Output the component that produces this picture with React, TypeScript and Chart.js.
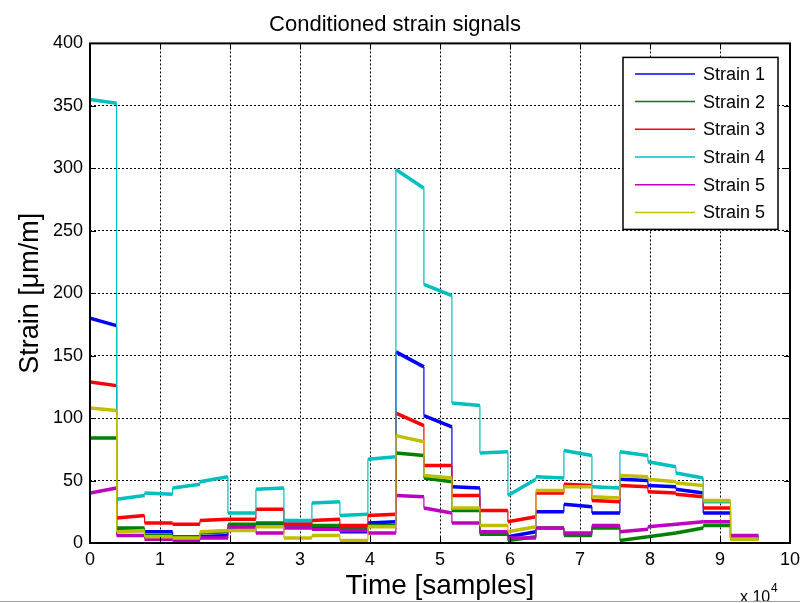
import React, { useEffect, useRef } from "react";
import { Chart, registerables } from "chart.js";

Chart.register(...registerables);

// Step boundaries (time, in units of 10^4 samples)
const BREAKS = [0, 0.38, 0.78, 1.18, 1.57, 1.97, 2.37, 2.77, 3.17, 3.57, 3.97, 4.37, 4.77, 5.17, 5.57, 5.97, 6.37, 6.77, 7.17, 7.57, 7.97, 8.37, 8.76, 9.15, 9.55];

// Level at start and end of each step (µm/m)
const STRAIN1_START = [180, 10, 9, 3, 5, 12, 14, 15, 13, 9, 16, 153, 102, 45, 8, 5, 25, 31, 24, 51, 46, 43, 24, 4];
const STRAIN1_END = [174, 10, 9, 3, 6, 12, 14, 15, 13, 9, 17, 141, 93, 44, 8, 9, 25, 29, 24, 50, 45, 40, 24, 4];
const STRAIN2_START = [84, 12, 6, 5, 8, 15, 16, 14, 14, 12, 14, 72, 52, 26, 7, 2, 12, 6, 12, 2, 5, 8, 14, 4];
const STRAIN2_END = [84, 12, 6, 5, 9, 15, 16, 14, 14, 12, 14, 70, 49, 26, 7, 5, 12, 6, 12, 5, 8, 12, 14, 4];
const STRAIN3_START = [129, 20, 16, 15, 18, 19, 27, 15, 18, 14, 22, 104, 62, 38, 26, 17, 40, 47, 34, 46, 41, 39, 28, 4];
const STRAIN3_END = [126, 22, 16, 15, 19, 19, 27, 15, 19, 14, 23, 94, 62, 38, 26, 21, 40, 46, 33, 45, 40, 37, 28, 4];
const STRAIN4_START = [355, 35, 40, 44, 49, 24, 43, 18, 32, 22, 67, 299, 207, 112, 72, 38, 53, 74, 45, 73, 65, 56, 33, 5];
const STRAIN4_END = [352, 38, 39, 47, 53, 24, 44, 18, 33, 23, 69, 284, 198, 110, 73, 51, 52, 70, 44, 70, 61, 52, 33, 5];
const STRAIN5_START = [40, 6, 3, 2, 4, 13, 8, 12, 11, 10, 8, 38, 28, 16, 9, 4, 12, 8, 14, 9, 13, 15, 17, 6];
const STRAIN5_END = [44, 6, 3, 2, 4, 12, 8, 12, 11, 10, 8, 37, 24, 16, 9, 4, 12, 8, 14, 11, 15, 17, 17, 6];
const STRAIN6_START = [108, 9, 5, 4, 9, 10, 13, 4, 6, 2, 13, 86, 54, 28, 14, 9, 42, 45, 37, 54, 51, 48, 34, 3];
const STRAIN6_END = [106, 10, 5, 4, 10, 10, 13, 4, 6, 2, 13, 81, 52, 28, 14, 13, 42, 45, 36, 53, 49, 46, 34, 3];

const LABELS = ["Strain 1", "Strain 2", "Strain 3", "Strain 4", "Strain 5", "Strain 5"];
const COLORS = ["#0000FF", "#008000", "#FF0000", "#00BFBF", "#BF00BF", "#BFBF00"];
const STARTS = [STRAIN1_START, STRAIN2_START, STRAIN3_START, STRAIN4_START, STRAIN5_START, STRAIN6_START];
const ENDS = [STRAIN1_END, STRAIN2_END, STRAIN3_END, STRAIN4_END, STRAIN5_END, STRAIN6_END];

const X_TICKS = [0, 1, 2, 3, 4, 5, 6, 7, 8, 9, 10];
const Y_TICKS = [0, 50, 100, 150, 200, 250, 300, 350, 400];

const FONT = "Arial, 'Liberation Sans', Helvetica, sans-serif";

function buildPoints(starts: number[], ends: number[]) {
  const pts: { x: number; y: number }[] = [];
  for (let k = 0; k < starts.length; k++) {
    pts.push({ x: BREAKS[k], y: starts[k] });
    pts.push({ x: BREAKS[k + 1], y: ends[k] });
  }
  return pts;
}

const decorPlugin = {
  id: "decor",
  afterDraw(chart: any) {
    const { ctx, chartArea } = chart;
    const { left, right, top, bottom } = chartArea;
    const xs = chart.scales.x;
    const ys = chart.scales.y;
    ctx.save();
    const line = (x1: number, y1: number, x2: number, y2: number) => {
      ctx.beginPath();
      ctx.moveTo(x1, y1);
      ctx.lineTo(x2, y2);
      ctx.stroke();
    };
    // inner tick marks
    ctx.strokeStyle = "#000";
    ctx.lineWidth = 1;
    for (const v of X_TICKS) {
      const px = Math.round(xs.getPixelForValue(v)) + 0.5;
      line(px, bottom, px, bottom - 6);
      line(px, top, px, top + 6);
    }
    for (const v of Y_TICKS) {
      const py = Math.round(ys.getPixelForValue(v)) + 0.5;
      line(left, py, left + 6, py);
      line(right, py, right - 6, py);
    }
    // axes box
    ctx.lineWidth = 2;
    ctx.strokeRect(left, top, right - left, bottom - top);

    // legend
    const lw = 155;
    const lh = 172;
    const lx = right - 12 - lw;
    const ly = top + 14;
    ctx.fillStyle = "#fff";
    ctx.fillRect(lx, ly, lw, lh);
    ctx.lineWidth = 1.5;
    ctx.strokeStyle = "#000";
    ctx.strokeRect(lx, ly, lw, lh);
    ctx.font = `18px ${FONT}`;
    ctx.textBaseline = "middle";
    ctx.textAlign = "left";
    chart.data.datasets.forEach((ds: any, i: number) => {
      const y = ly + 16.5 + i * 27.7;
      ctx.strokeStyle = ds.borderColor;
      ctx.lineWidth = 1.5;
      line(lx + 12, y, lx + 72, y);
      ctx.fillStyle = "#000";
      ctx.fillText(ds.label, lx + 80, y + 1);
    });

    // exponent label
    ctx.fillStyle = "#000";
    ctx.textBaseline = "alphabetic";
    ctx.font = `16px ${FONT}`;
    ctx.fillText("x 10", right - 50, 602);
    ctx.font = `12px ${FONT}`;
    ctx.fillText("4", right - 19, 592);

    // bottom window edge
    ctx.strokeStyle = "#a0a0a0";
    ctx.lineWidth = 1;
    line(0, 601.5, chart.width, 601.5);
    ctx.restore();
  },
};

export default function App() {
  const canvasRef = useRef<HTMLCanvasElement | null>(null);

  useEffect(() => {
    const canvas = canvasRef.current;
    if (!canvas) return;
    const datasets = LABELS.map((label, i) => ({
      label,
      data: buildPoints(STARTS[i], ENDS[i]),
      borderColor: COLORS[i],
      backgroundColor: COLORS[i],
      borderWidth: 3.5,
      pointRadius: 0,
      tension: 0,
      fill: false,
      order: LABELS.length - i,
      segment: {
        borderWidth: (c: any) => (c.p0.parsed.x === c.p1.parsed.x ? 1.2 : 3.5),
      },
    }));

    const chart = new Chart(canvas, {
      type: "line",
      data: { datasets },
      options: {
        responsive: false,
        animation: false,
        events: [],
        layout: { padding: { left: 0, right: 10, top: 0, bottom: 0 } },
        plugins: {
          legend: { display: false },
          tooltip: { enabled: false },
          title: {
            display: true,
            text: "Conditioned strain signals",
            color: "#000",
            font: { family: FONT, size: 22, weight: "normal" },
            padding: { top: 12, bottom: 5 },
          },
        },
        scales: {
          x: {
            type: "linear",
            min: 0,
            max: 10,
            afterFit: (s: any) => {
              s.height = 60;
              s.paddingRight = 0;
              s.paddingLeft = 0;
            },
            afterBuildTicks: (s: any) => {
              s.ticks = X_TICKS.map((v) => ({ value: v }));
            },
            ticks: {
              color: "#000",
              font: { family: FONT, size: 18 },
              padding: 6,
              maxRotation: 0,
              autoSkip: false,
            },
            grid: {
              color: "#000",
              lineWidth: 1,
              drawTicks: false,
            },
            border: { display: false, dash: [2, 2] },
            title: {
              display: true,
              text: "Time [samples]",
              color: "#000",
              font: { family: FONT, size: 28 },
              padding: { top: 0, bottom: 0 },
            },
          },
          y: {
            type: "linear",
            min: 0,
            max: 400,
            afterFit: (s: any) => {
              s.width = 90;
              s.paddingTop = 0;
              s.paddingBottom = 0;
            },
            afterBuildTicks: (s: any) => {
              s.ticks = Y_TICKS.map((v) => ({ value: v }));
            },
            ticks: {
              color: "#000",
              font: { family: FONT, size: 18 },
              padding: 7,
              autoSkip: false,
            },
            grid: {
              color: "#000",
              lineWidth: 1,
              drawTicks: false,
            },
            border: { display: false, dash: [2, 2] },
            title: {
              display: true,
              text: "Strain [\u03BCm/m]",
              color: "#000",
              font: { family: FONT, size: 27 },
              padding: { top: 14, bottom: 0 },
            },
          },
        },
      },
      plugins: [decorPlugin],
    } as any);

    return () => {
      chart.destroy();
    };
  }, []);

  return (
    <div style={{ position: "fixed", left: 0, top: 0, width: 800, height: 603, background: "#fff" }}>
      <canvas ref={canvasRef} width={800} height={603} style={{ display: "block", width: 800, height: 603 }} />
    </div>
  );
}
